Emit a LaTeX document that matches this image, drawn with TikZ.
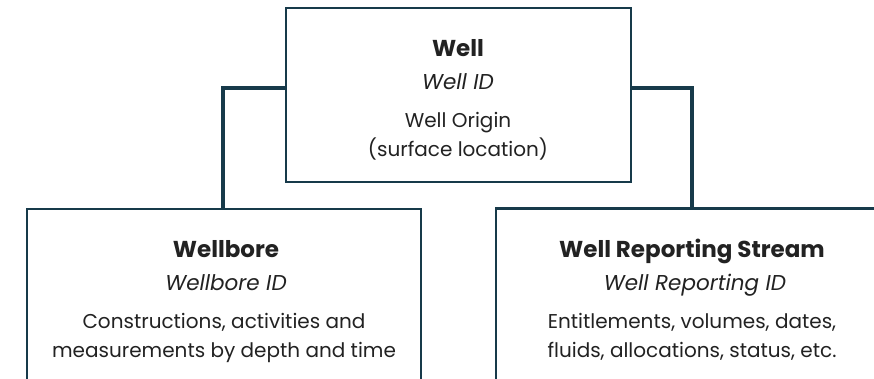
\documentclass[tikz,border=0pt]{standalone}
\usepackage{fontspec}
\setmainfont{Poppins}
\definecolor{linec}{HTML}{173A4A}
\definecolor{txt}{HTML}{222222}
\begin{document}
\begin{tikzpicture}[x=1pt,y=-1pt,
  box/.style={draw=linec,line width=2.5pt,fill=white},
  conn/.style={draw=linec,line width=4pt},
  ttl/.style={anchor=base,text=txt,font=\fontsize{23}{26}\selectfont\bfseries,inner sep=0pt},
  idt/.style={anchor=base,text=txt,font=\fontsize{21.5}{24}\selectfont\itshape,inner sep=0pt},
  dsc/.style={anchor=base,text=txt,font=\fontsize{20}{23}\selectfont,inner sep=0pt}]
\useasboundingbox (0,0) rectangle (874,379);
\clip (0,0) rectangle (874,379);
\fill[white] (0,0) rectangle (874,379);
% boxes
\node[box,minimum width=345pt,minimum height=174pt,inner sep=0pt] (well) at (458.5,95) {};
\node[box,minimum width=394pt,minimum height=200pt,inner sep=0pt] (bore) at (224,309) {};
\node[box,minimum width=400pt,minimum height=200pt,inner sep=0pt] (rep) at (696,308.5) {};
% connectors
\coordinate (lc) at (223,88);
\coordinate (rc) at (692,88);
\draw[conn] (well.west |- lc) -- (lc) -- (lc |- bore.north);
\draw[conn] (well.east |- rc) -- (rc) -- (rc |- rep.north);
% texts
\node[ttl] (t1) at (458,57) {Well};
\node[idt] (t2) at (458,90) {Well ID};
\node[dsc] (t3) at (458,128) {Well Origin};
\node[dsc] (t4) at (458,157) {(surface location)};
\node[ttl] (b1) at (226,257) {Wellbore};
\node[idt] (b2) at (226,290) {Wellbore ID};
\node[dsc] (b3) at (224,328) {Constructions, activities and};
\node[dsc] (b4) at (224,357) {measurements by depth and time};
\node[ttl] (r1) at (692,257) {Well Reporting Stream};
\node[idt] (r2) at (695,290) {Well Reporting ID};
\node[dsc] (r3) at (692,328) {Entitlements, volumes, dates,};
\node[dsc] (r4) at (692,357) {fluids, allocations, status, etc.};
\end{tikzpicture}
\end{document}
